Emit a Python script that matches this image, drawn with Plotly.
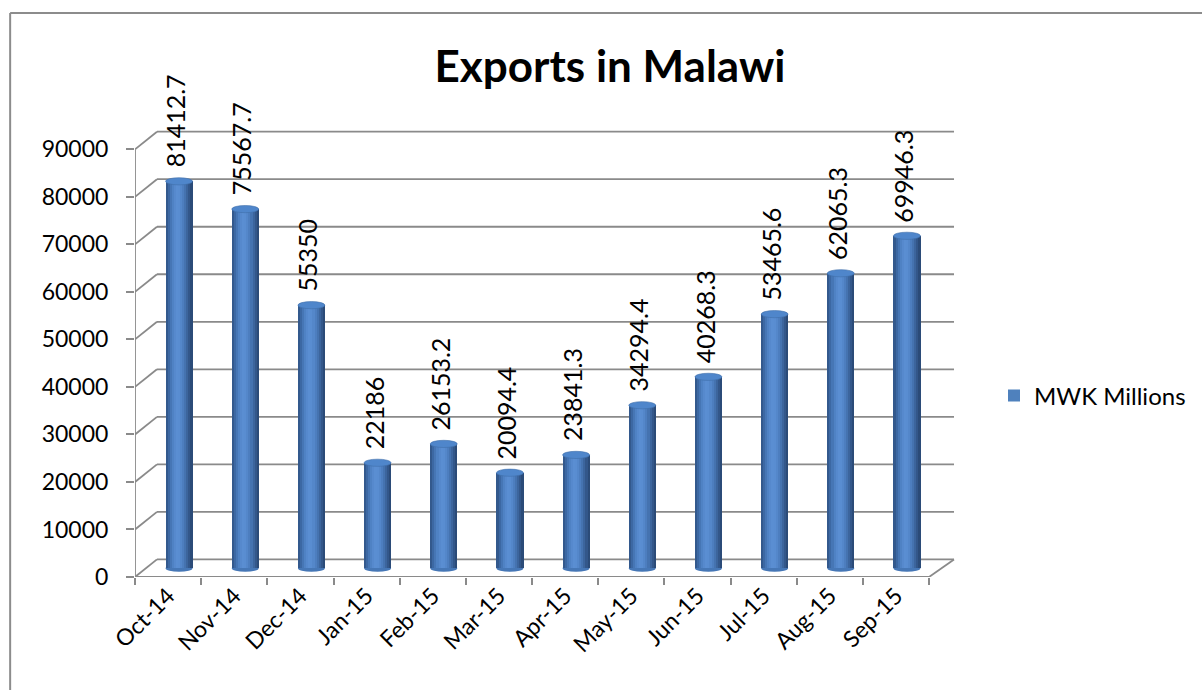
import plotly.graph_objects as go

# ---- data -------------------------------------------------------------
months = ["Oct-14", "Nov-14", "Dec-14", "Jan-15", "Feb-15", "Mar-15",
          "Apr-15", "May-15", "Jun-15", "Jul-15", "Aug-15", "Sep-15"]
exports_mwk = [81412.7, 75567.7, 55350, 22186, 26153.2, 20094.4,
               23841.3, 34294.4, 40268.3, 53465.6, 62065.3, 69946.3]
y_ticks = [0, 10000, 20000, 30000, 40000, 50000, 60000, 70000, 80000, 90000]
series_name = "MWK Millions"

# ---- page geometry (pixels) --------------------------------------------
W, H = 1202, 690
PLOT_L, PLOT_R, PLOT_T, PLOT_B = 135, 960, 60, 577
CAT_PX = (930 - 135) / len(months)          # width of one category slot
PX_PER_UNIT = (577 - 149.3) / 90000         # vertical scale
X_RIGHT = -0.5 + (PLOT_R - PLOT_L) / CAT_PX
Y_TOP = (PLOT_B - PLOT_T) / PX_PER_UNIT

# 3-D depth of the floor / back wall
DX_BACK_L = 22 / CAT_PX
DX_BACK_R = 25 / CAT_PX
DY_BACK = 17.6 / PX_PER_UNIT
MID_DX = 11 / CAT_PX
BASE = DY_BACK / 2                          # bars stand half-way into the floor
BAR_W = 27 / CAT_PX
ELL_RY = 3.6 / PX_PER_UNIT                  # half-height of cylinder caps

GRID = "#8a8a8a"
FONT = "Lato"

fig = go.Figure()

# legend swatch / full-width body of each cylinder
fig.add_trace(go.Bar(
    x=months, y=exports_mwk, base=BASE, name=series_name,
    width=BAR_W, offset=MID_DX - BAR_W / 2,
    marker=dict(color="#4F81BD", line=dict(width=0)),
    showlegend=True, hoverinfo="skip",
))

# vertical shading strips giving the cylinder its rounded look
strip_colors = ["#33598d", "#3c68a3", "#4676b5", "#4f82c4", "#5689cd",
                "#5a8ed2", "#598dd1", "#5487ca", "#4d7ebf", "#4573b0",
                "#3c659d", "#33578a", "#2b4b78"]
n = len(strip_colors)
sw = BAR_W / n
for k, c in enumerate(strip_colors):
    fig.add_trace(go.Bar(
        x=months, y=exports_mwk, base=BASE,
        width=sw * 1.08, offset=MID_DX - BAR_W / 2 + k * sw,
        marker=dict(color=c, line=dict(width=0)),
        showlegend=False, hoverinfo="skip",
    ))

shapes = []

# back-wall gridlines and the diagonals joining them to the front axis
for v in y_ticks:
    shapes.append(dict(type="line", xref="x", yref="y", layer="below",
                       x0=-0.5 + DX_BACK_L, x1=11.5 + DX_BACK_R,
                       y0=v + DY_BACK, y1=v + DY_BACK,
                       line=dict(color=GRID, width=1.8)))
    shapes.append(dict(type="line", xref="x", yref="y", layer="below",
                       x0=-0.5, x1=-0.5 + DX_BACK_L, y0=v, y1=v + DY_BACK,
                       line=dict(color=GRID, width=1.8)))

# front value axis, front floor edge and right floor edge
shapes.append(dict(type="line", xref="x", yref="y", layer="below",
                   x0=-0.5, x1=-0.5, y0=0, y1=y_ticks[-1],
                   line=dict(color=GRID, width=1.8)))
shapes.append(dict(type="line", xref="x", yref="y", layer="below",
                   x0=-0.5, x1=11.5, y0=0, y1=0,
                   line=dict(color=GRID, width=1.8)))
shapes.append(dict(type="line", xref="x", yref="y", layer="below",
                   x0=11.5, x1=11.5 + DX_BACK_R, y0=0, y1=DY_BACK,
                   line=dict(color=GRID, width=1.8)))

# cylinder bottoms (below bars) and caps (above bars)
for i, v in enumerate(exports_mwk):
    cx = i + MID_DX
    shapes.append(dict(type="circle", xref="x", yref="y", layer="below",
                       x0=cx - BAR_W / 2, x1=cx + BAR_W / 2,
                       y0=BASE - ELL_RY, y1=BASE + ELL_RY,
                       fillcolor="#4677b6", line=dict(width=0)))
    shapes.append(dict(type="circle", xref="x", yref="y", layer="above",
                       x0=cx - BAR_W / 2, x1=cx + BAR_W / 2,
                       y0=BASE + v - ELL_RY, y1=BASE + v + ELL_RY,
                       fillcolor="#4f86cb", line=dict(color="#3f6ea9", width=0.6)))


def px_x(p):
    return (p - PLOT_L) / (PLOT_R - PLOT_L)


def px_y(p):
    return (PLOT_B - p) / (PLOT_B - PLOT_T)


# outer chart frame (top and left edges)
shapes.append(dict(type="line", xref="paper", yref="paper",
                   x0=px_x(10), x1=px_x(1210), y0=px_y(13), y1=px_y(13),
                   line=dict(color="#8c8c8c", width=2)))
shapes.append(dict(type="line", xref="paper", yref="paper",
                   x0=px_x(10), x1=px_x(10), y0=px_y(13), y1=px_y(700),
                   line=dict(color="#8c8c8c", width=2)))

# rotated value labels above each cylinder
annotations = []
for i, v in enumerate(exports_mwk):
    annotations.append(dict(
        x=i + MID_DX, y=BASE + v + ELL_RY, xref="x", yref="y",
        text=f"{v:g}", textangle=-90, showarrow=False,
        xanchor="center", yanchor="bottom", yshift=8, xshift=-4,
        font=dict(family=FONT, size=25, color="#000000"),
    ))

fig.update_layout(
    width=W, height=H,
    margin=dict(l=PLOT_L, r=W - PLOT_R, t=PLOT_T, b=H - PLOT_B, pad=0),
    paper_bgcolor="white", plot_bgcolor="white",
    barmode="overlay", bargap=0,
    font=dict(family=FONT, size=23, color="#000000"),
    title=dict(text="<b>Exports in Malawi</b>", x=0.5075, xanchor="center",
               y=1 - 67 / H, yanchor="middle", yref="container",
               font=dict(family=FONT, size=44, color="#000000")),
    xaxis=dict(type="category", categoryorder="array", categoryarray=months,
               range=[-0.5, X_RIGHT], tickson="boundaries",
               ticks="outside", ticklen=7, tickwidth=1.8, tickcolor=GRID,
               showgrid=False, zeroline=False, showline=False,
               tickangle=-45, tickfont=dict(family=FONT, size=23)),
    yaxis=dict(range=[0, Y_TOP], tickvals=y_ticks,
               ticktext=[str(t) for t in y_ticks],
               ticks="outside", ticklen=8, tickwidth=1.8, tickcolor=GRID,
               ticklabelstandoff=13,
               showgrid=False, zeroline=False, showline=False,
               tickfont=dict(family=FONT, size=23)),
    legend=dict(x=px_x(994), y=px_y(396), xanchor="left", yanchor="middle",
                font=dict(family=FONT, size=24), bgcolor="rgba(0,0,0,0)"),
    shapes=shapes,
    annotations=annotations,
)

fig.write_html("out.html")
